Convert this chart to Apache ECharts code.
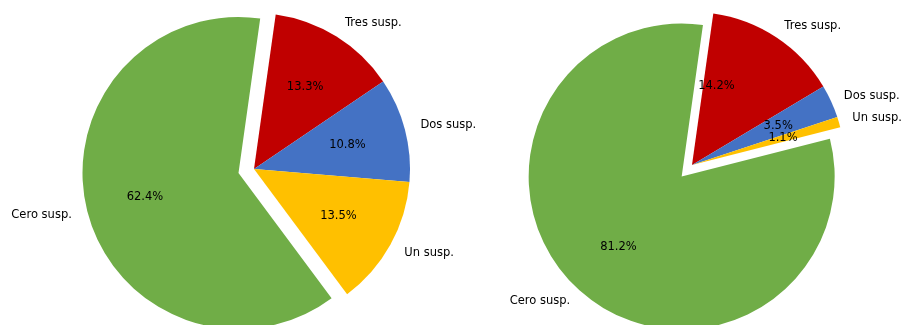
<!DOCTYPE html>
<html>
<head>
<meta charset="utf-8">
<script src="https://cdn.jsdelivr.net/npm/echarts@6/dist/echarts.min.js"></script>
<style>
  html, body { margin: 0; padding: 0; background: #fff; }
  #chart { width: 901px; height: 325px; }
</style>
</head>
<body>
<div id="chart"></div>
<script>
// Categories in clockwise drawing order
const categories = ['Tres susp.', 'Dos susp.', 'Un susp.', 'Cero susp.'];
// Percentages for each pie
const leftValues = [13.3, 10.8, 13.5, 62.4];
const rightValues = [14.2, 3.5, 1.1, 81.2];
// Slice pulled out of each pie
const explodedCategory = 'Cero susp.';

const colors = ['#C00000', '#4472C4', '#FFC000', '#70AD47'];
const font = '"DejaVu Sans", Verdana, sans-serif';
const fontSize = 11.5;

function buildData(values, extra) {
  return categories.map((name, i) => Object.assign({
    name: name,
    value: values[i],
    selected: name === explodedCategory,
    itemStyle: { color: colors[i] }
  }, (extra && extra[i]) || {}));
}

function pieSeries(center, radius, values, offset, lineLen, labelExtra) {
  const base = {
    type: 'pie',
    center: center,
    startAngle: 82,
    clockwise: true,
    selectedMode: 'multiple',
    selectedOffset: offset,
    avoidLabelOverlap: false,
    silent: true,
    animation: false,
    emphasis: { disabled: true, scale: false },
    select: { disabled: false }
  };
  // Slices with category names outside
  const names = Object.assign({}, base, {
    radius: [0, radius],
    data: buildData(values),
    label: {
      show: true,
      position: 'outside',
      formatter: '{b}',
      color: '#000',
      fontFamily: font,
      fontSize: fontSize,
      width: 80,
      overflow: 'none',
      distanceToLabelLine: 0
    },
    labelLine: { show: false, length: lineLen, length2: 0 }
  });
  // Transparent ring carrying the percentage labels
  const pct = Object.assign({}, base, {
    radius: [radius * 0.2, radius],
    z: 3,
    data: buildData(values, labelExtra).map(d => Object.assign(d, {
      itemStyle: { color: 'rgba(0,0,0,0)' }
    })),
    label: {
      show: true,
      position: 'inside',
      formatter: p => p.value.toFixed(1) + '%',
      color: '#000',
      fontFamily: font,
      fontSize: fontSize
    },
    labelLine: { show: false }
  });
  return [names, pct];
}

const chart = echarts.init(document.getElementById('chart'), null, { renderer: 'canvas' });
chart.setOption({
  backgroundColor: '#fff',
  animation: false,
  series: [
    ...pieSeries([254, 169], 156, leftValues, 16, 16),
    ...pieSeries([692, 165], 153, rightValues, 15.5, 14,
      [{ label: { offset: [-28, 0] } }, null, null, null])
  ]
});
</script>
</body>
</html>
